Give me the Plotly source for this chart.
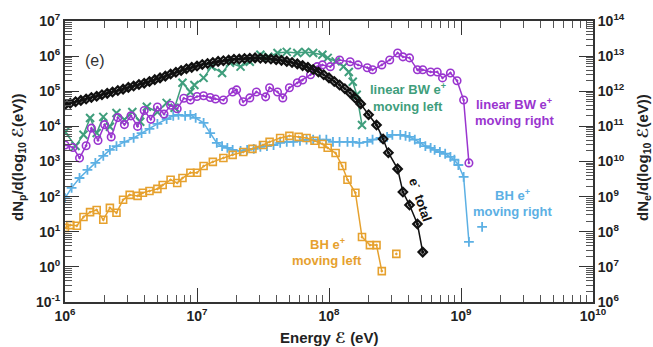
import plotly.graph_objects as go

# ---------------- data (log10 of energy in eV, log10 of spectrum) ----------------
# e- total (right axis, dNe/d(log10 E))
etot_logE = [6.00, 6.04, 6.08, 6.12, 6.16, 6.20, 6.24, 6.28, 6.32, 6.36, 6.40, 6.44, 6.48,
             6.52, 6.56, 6.60, 6.64, 6.68, 6.72, 6.76, 6.80, 6.84, 6.88, 6.92, 6.96, 7.00,
             7.04, 7.08, 7.12, 7.16, 7.20, 7.24, 7.28, 7.32, 7.36, 7.40, 7.44, 7.48, 7.52,
             7.56, 7.60, 7.64, 7.68, 7.72, 7.76, 7.80, 7.84, 7.88, 7.92, 7.96, 8.00, 8.04,
             8.08, 8.12, 8.16, 8.20, 8.24, 8.30, 8.36, 8.41, 8.45, 8.52, 8.56, 8.61, 8.67, 8.71]
etot_logN = [11.62, 11.66, 11.70, 11.74, 11.78, 11.82, 11.86, 11.90, 11.94, 11.98, 12.02, 12.06, 12.11,
             12.15, 12.19, 12.23, 12.28, 12.33, 12.38, 12.43, 12.49, 12.54, 12.59, 12.64, 12.68, 12.72,
             12.76, 12.79, 12.82, 12.85, 12.87, 12.89, 12.91, 12.92, 12.93, 12.94, 12.95, 12.94, 12.93,
             12.92, 12.90, 12.88, 12.85, 12.82, 12.78, 12.73, 12.68, 12.62, 12.55, 12.47, 12.38, 12.28,
             12.18, 12.07, 11.95, 11.80, 11.64, 11.33, 11.04, 10.64, 10.25, 9.79, 9.13, 8.76, 8.22, 7.42]

# linear BW e+ moving left (left axis, dNp/d(log10 E))
bwl_logE = [6.00, 6.08, 6.14, 6.19, 6.24, 6.29, 6.34, 6.39, 6.45, 6.51, 6.57, 6.62, 6.70, 6.77,
            6.83, 6.89, 6.95, 6.98, 7.05, 7.11, 7.19, 7.25, 7.33, 7.40, 7.48, 7.54, 7.61, 7.68,
            7.76, 7.82, 7.88, 7.95, 7.99, 8.05, 8.11, 8.15, 8.18, 8.21, 8.25]
bwl_logN = [3.84, 3.44, 3.76, 4.24, 3.81, 4.27, 3.99, 4.38, 4.19, 4.41, 4.13, 4.56, 4.41, 4.67,
            4.53, 5.24, 4.98, 5.18, 5.38, 5.70, 5.52, 5.81, 5.70, 5.84, 6.04, 5.98, 6.09, 6.12,
            6.09, 6.12, 6.09, 6.04, 5.95, 5.85, 5.70, 5.55, 5.27, 4.90, 4.04]

# linear BW e+ moving right
bwr_logE = [6.00, 6.06, 6.11, 6.16, 6.20, 6.25, 6.30, 6.35, 6.40, 6.45, 6.50, 6.55, 6.60, 6.65,
            6.70, 6.75, 6.80, 6.85, 6.90, 6.95, 7.00, 7.05, 7.10, 7.14, 7.20, 7.27, 7.30, 7.35,
            7.40, 7.45, 7.52, 7.55, 7.61, 7.65, 7.70, 7.76, 7.80, 7.86, 7.91, 7.95, 8.01, 8.08,
            8.16, 8.22, 8.29, 8.33, 8.40, 8.46, 8.52, 8.56, 8.61, 8.67, 8.71, 8.77, 8.82, 8.86,
            8.92, 8.97, 9.02, 9.06]
bwr_logN = [3.47, 3.40, 3.10, 3.45, 3.95, 3.60, 4.05, 3.70, 4.25, 4.05, 4.30, 4.00, 4.45, 4.20,
            4.55, 4.35, 4.60, 4.50, 4.80, 4.75, 4.85, 4.87, 4.82, 4.78, 4.75, 4.98, 5.04, 4.70,
            4.81, 4.98, 4.84, 5.10, 4.98, 4.81, 5.10, 5.24, 5.32, 5.47, 5.70, 5.75, 5.70, 5.89,
            5.84, 5.75, 5.67, 5.61, 5.75, 5.89, 6.09, 5.98, 5.95, 5.61, 5.61, 5.55, 5.55, 5.38,
            5.52, 5.30, 4.75, 2.96]

# BH e+ moving right (None = empty bin)
bhr_logE = [6.00, 6.05, 6.11, 6.17, 6.23, 6.29, 6.34, 6.39, 6.45, 6.52, 6.58, 6.64, 6.70, 6.77,
            6.82, 6.86, 6.91, 6.95, 6.99, 7.05, 7.10, 7.15, 7.19, 7.23, 7.27, 7.33, 7.38, 7.43,
            7.48, 7.53, 7.58, 7.63, 7.68, 7.73, 7.78, 7.83, 7.88, 7.93, 7.98, 8.03, 8.08, 8.14,
            8.18, 8.23, 8.29, 8.33, 8.39, 8.44, 8.48, 8.54, 8.58, 8.61, 8.65, 8.69, 8.73, 8.77,
            8.80, 8.84, 8.88, 8.92, 8.95, 8.98, 9.02, 9.06, 9.11, 9.16]
bhr_logN = [1.96, 2.25, 2.53, 2.76, 2.96, 3.16, 3.33, 3.44, 3.56, 3.67, 3.81, 3.93, 4.07, 4.21,
            4.30, 4.33, 4.30, 4.33, 4.24, 4.10, 3.81, 3.53, 3.44, 3.39, 3.33, 3.30, 3.33, 3.36,
            3.42, 3.44, 3.47, 3.53, 3.56, 3.56, 3.59, 3.62, 3.62, 3.62, 3.62, 3.56, 3.56, 3.56,
            3.56, 3.53, 3.56, 3.62, 3.67, 3.70, 3.76, 3.76, 3.73, 3.70, 3.62, 3.53, 3.44, 3.39,
            3.33, 3.27, 3.22, 3.13, 3.05, 2.90, 2.56, 0.71, None, 1.14]

# BH e+ moving left (None = empty bin)
bhl_logE = [6.00, 6.04, 6.09, 6.14, 6.19, 6.24, 6.29, 6.34, 6.39, 6.44, 6.49, 6.55, 6.59, 6.64,
            6.70, 6.74, 6.80, 6.85, 6.89, 6.95, 7.00, 7.05, 7.12, 7.20, 7.27, 7.35, 7.42, 7.50,
            7.55, 7.63, 7.70, 7.77, 7.83, 7.89, 7.95, 7.99, 8.05, 8.10, 8.14, 8.20, 8.25, 8.31,
            8.36, 8.40, 8.46, 8.51]
bhl_logN = [1.11, 1.19, 1.17, 1.42, 1.56, 1.62, 1.34, 1.68, 1.54, 1.91, 2.05, 2.02, 2.11, 2.16,
            2.22, 2.33, 2.48, 2.39, 2.53, 2.68, 2.68, 2.87, 2.99, 3.10, 3.19, 3.27, 3.36, 3.47,
            3.56, 3.67, 3.73, 3.70, 3.67, 3.59, 3.50, 3.39, 3.24, 2.87, 2.48, 2.11, 0.85, 0.62,
            0.62, -0.12, None, 0.37]

x_ticks = [6, 7, 8, 9, 10]
yl_ticks = [-1, 0, 1, 2, 3, 4, 5, 6, 7]
yr_ticks = [6, 7, 8, 9, 10, 11, 12, 13, 14]


def lin(v):
    return [None if a is None else 10 ** a for a in v]


def sup_labels(exps):
    return ["10<sup>%d</sup>" % e for e in exps]


FONT = "Liberation Sans, Arial, DejaVu Sans, sans-serif"
GREEN = "#3f9e7c"
PURPLE = "#9a35cf"
BLUE = "#5cb0e4"
ORANGE = "#e6a12e"
BLACK = "#111111"
AX = "#333333"

fig = go.Figure()

fig.add_trace(go.Scatter(x=lin(bhr_logE), y=lin(bhr_logN), mode="lines+markers",
                         line=dict(color=BLUE, width=1.5), connectgaps=False,
                         marker=dict(symbol="cross-thin", size=7, line=dict(color=BLUE, width=1.8))))
fig.add_trace(go.Scatter(x=lin(bhl_logE), y=lin(bhl_logN), mode="lines+markers",
                         line=dict(color=ORANGE, width=1.5), connectgaps=False,
                         marker=dict(symbol="square-open-dot", size=7, color=ORANGE,
                                     line=dict(color=ORANGE, width=1.6))))
fig.add_trace(go.Scatter(x=lin(bwl_logE), y=lin(bwl_logN), mode="lines+markers",
                         line=dict(color=GREEN, width=1.5),
                         marker=dict(symbol="x-thin", size=8, line=dict(color=GREEN, width=2))))
fig.add_trace(go.Scatter(x=lin(bwr_logE), y=lin(bwr_logN), mode="lines+markers",
                         line=dict(color=PURPLE, width=1.5),
                         marker=dict(symbol="circle-open-dot", size=7.5, color=PURPLE,
                                     line=dict(color=PURPLE, width=1.6))))
fig.add_trace(go.Scatter(x=lin(etot_logE), y=lin(etot_logN), mode="lines+markers", yaxis="y2",
                         line=dict(color=BLACK, width=1.5),
                         marker=dict(symbol="diamond-open-dot", size=6.5, color=BLACK,
                                     line=dict(color=BLACK, width=2.2))))

axis_common = dict(type="log", showgrid=False, zeroline=False, showline=True, linecolor=AX,
                   linewidth=2, ticks="inside", tickcolor=AX, tickwidth=1.2, ticklen=14,
                   automargin=False,
                   tickfont=dict(family=FONT, size=14, color="#222", weight="bold"),
                   minor=dict(ticks="inside", ticklen=7, tickcolor="#555", tickwidth=1,
                              dtick="D1", showgrid=False))

fig.update_layout(
    width=653, height=347,
    margin=dict(l=65, r=60, t=21, b=45, autoexpand=False),
    paper_bgcolor="white", plot_bgcolor="white",
    showlegend=False,
    font=dict(family=FONT),
    xaxis=dict(axis_common, range=[6, 10], mirror="ticks",
               tickvals=[10 ** e for e in x_ticks], ticktext=sup_labels(x_ticks)),
    yaxis=dict(axis_common, range=[-1, 7],
               tickvals=[10 ** e for e in yl_ticks], ticktext=sup_labels(yl_ticks)),
    yaxis2=dict(axis_common, range=[6, 14], overlaying="y", side="right",
                tickvals=[10 ** e for e in yr_ticks], ticktext=sup_labels(yr_ticks)),
)


def px2paper(px, py):
    return (px - 65) / 528.0, (302 - py) / 281.0


def note(px, py, text, color, size=13, bold=True, angle=0):
    x, y = px2paper(px, py)
    fig.add_annotation(x=x, y=y, xref="paper", yref="paper", text=text, showarrow=False,
                       textangle=angle, align="center", xanchor="center", yanchor="middle",
                       font=dict(family=FONT, size=size, color=color,
                                 weight="bold" if bold else "normal"))


TITLE_C = "#222222"
# axis titles
note(329, 337, "Energy ℰ (eV)", TITLE_C, size=15)
note(18, 158, "dN<sub>p</sub>/d(log<sub>10</sub> ℰ(eV))", TITLE_C, size=15, angle=-90)
note(643, 158, "dN<sub>e</sub>/d(log<sub>10</sub> ℰ(eV))", TITLE_C, size=15, angle=-90)

# in-plot labels
note(95, 60, "(e)", "#333333", size=16, bold=False)
note(408, 89, "linear BW e<sup>+</sup>", GREEN)
note(408, 106, "moving left", GREEN)
note(514, 104, "linear BW e<sup>+</sup>", PURPLE)
note(514, 120, "moving right", PURPLE)
note(512, 195, "BH e<sup>+</sup>", BLUE)
note(512, 211, "moving right", BLUE)
note(327, 244, "BH e<sup>+</sup>", ORANGE)
note(327, 260, "moving left", ORANGE)
note(421, 199, "e<sup>-</sup>  total", BLACK, angle=71)

fig.write_html("out.html", config={"displayModeBar": False},
               post_script="document.body.style.margin='0px';")
